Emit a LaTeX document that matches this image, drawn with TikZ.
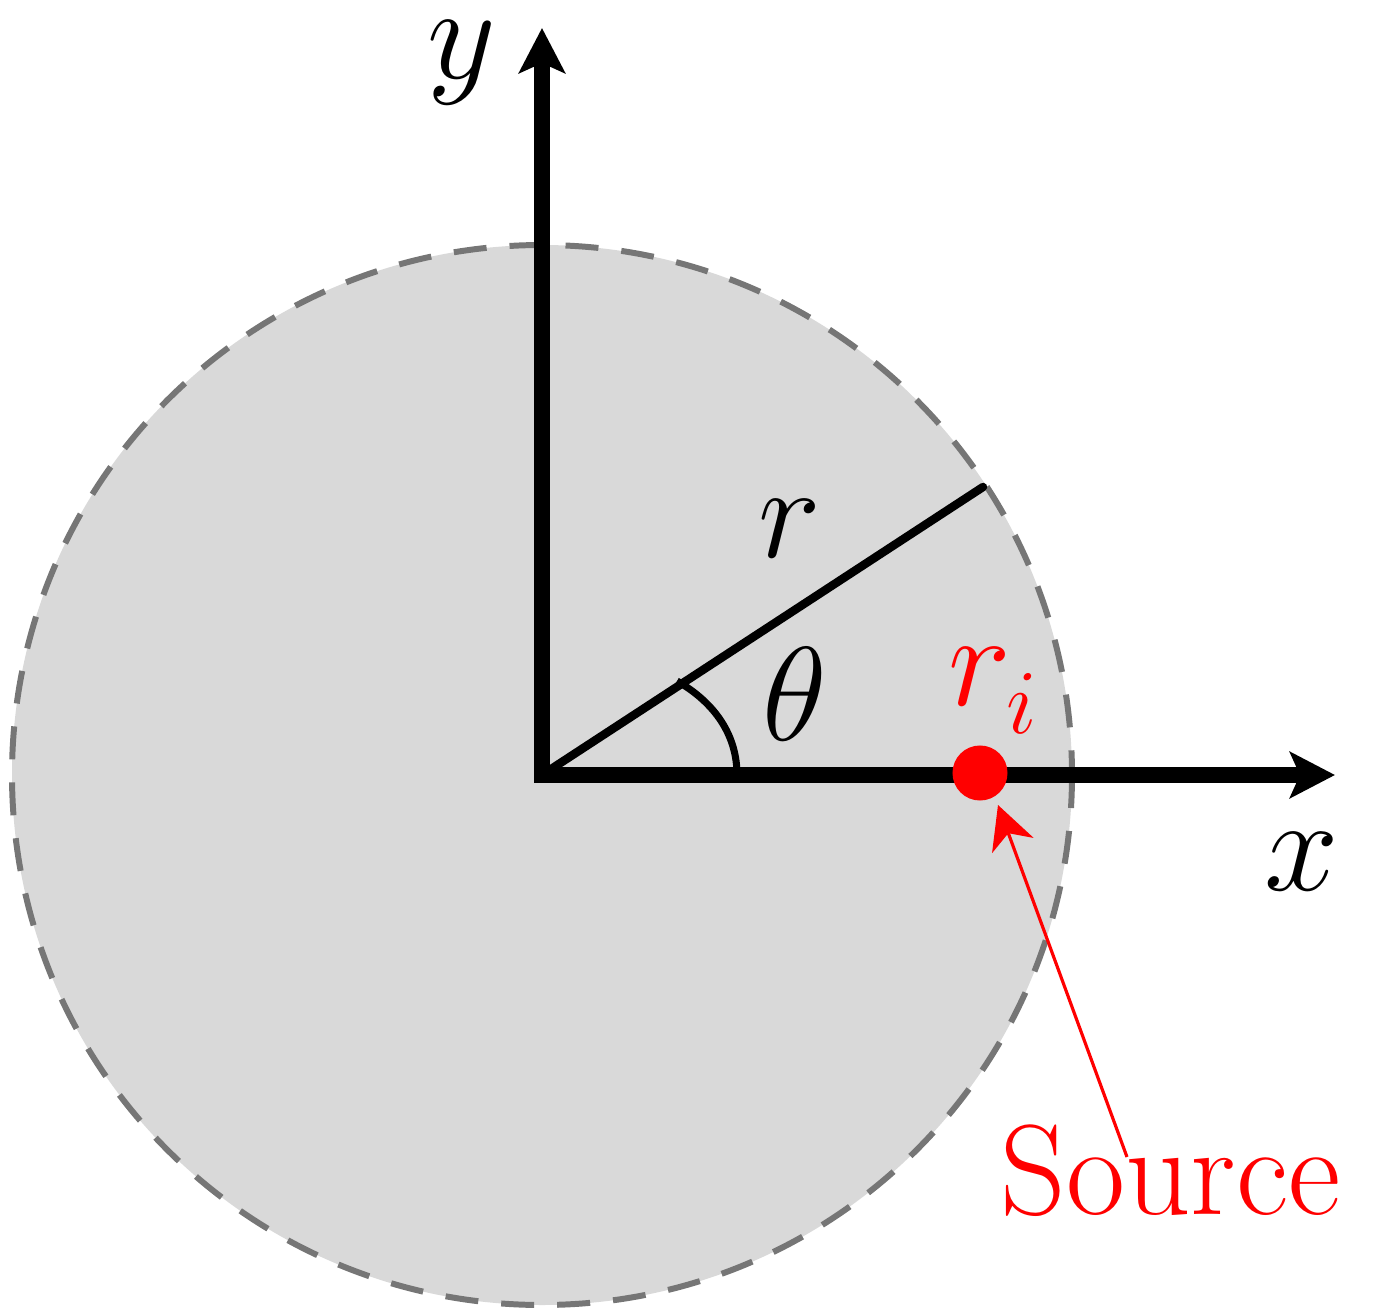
\documentclass[tikz,border=0pt]{standalone}
\usepackage{fix-cm}
\usetikzlibrary{arrows.meta}
\definecolor{diskfill}{HTML}{D9D9D9}
\definecolor{dashgray}{HTML}{767676}
\definecolor{srcred}{HTML}{FF0000}
\tikzset{
  axisline/.style={line width=4.6pt, line join=miter, {Stealth[length=0.45cm,width=0.46cm,inset=0.1cm]}-{Stealth[length=0.45cm,width=0.46cm,inset=0.1cm]}},
  radline/.style={line width=2.4pt, line cap=round},
  anglearc/.style={line width=2.0pt},
  rim/.style={draw=dashgray, line width=1.7pt, dash pattern=on 0.33cm off 0.23cm, fill=diskfill},
  biglabel/.style={inner sep=0pt, anchor=base, font=\fontsize{38}{40}\selectfont},
  sublabel/.style={inner sep=0pt, anchor=base, font=\fontsize{26}{28}\selectfont},
  pointer/.style={draw=srcred, line width=0.9pt, -{Stealth[length=0.43cm,width=0.44cm,inset=0.13cm]}},
}
\begin{document}
\begin{tikzpicture}[x=0.01cm,y=-0.01cm]
\useasboundingbox (0,0) rectangle (1375,1309);
% geometry
\coordinate (O) at (542,775);
\coordinate (ytip) at (542,28);
\coordinate (xtip) at (1335,775);
\coordinate (rend) at (983,487);
\coordinate (arcA) at (737,775);
\coordinate (arcB) at (677,681);
\coordinate (tip) at (998,805);
\coordinate (tail) at (1127,1157);
% disk
\path[rim] (O) circle[radius=530];
% radius and angle
\draw[radline] (O) -- (rend);
\draw[anglearc] (arcA) .. controls (737,735) and (715,703) .. (arcB);
% axes
\draw[axisline] (ytip) -- (O) -- (xtip);
% source point
\node[circle, fill=srcred, inner sep=0pt, minimum size=0.55cm] (dot) at (980,773) {};
% labels
\node[biglabel] (ylab) at (462,78) {$y$};
\node[biglabel] (xlab) at (1302,890) {$x$};
\node[biglabel] (rlab) at (790,557) {$r$};
\node[biglabel] (thlab) at (795,740) {$\theta$};
\node[biglabel, text=srcred] (rilab) at (980,705) {$r$};
\node[sublabel, text=srcred] (isub) at (1022,733) {$i$};
\node[inner sep=0pt, anchor=base west, text=srcred, font=\fontsize{36.5}{40}\selectfont] (src) at (1000,1214) {Source};
% pointer
\draw[pointer] (tail) -- (tip);
\end{tikzpicture}
\end{document}
